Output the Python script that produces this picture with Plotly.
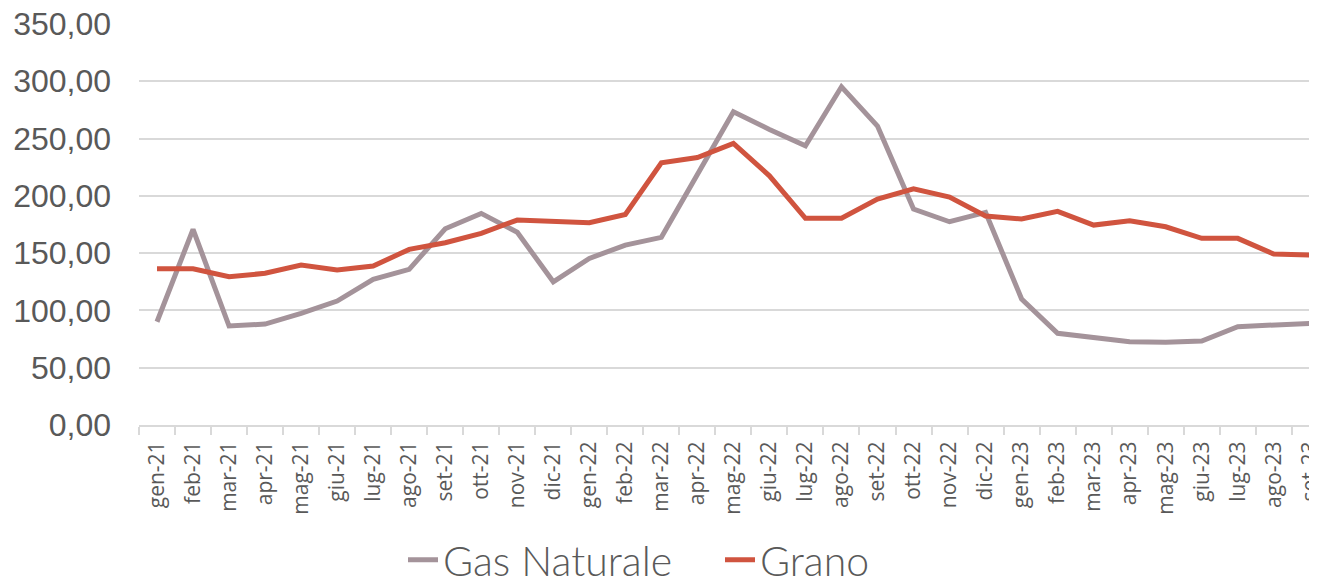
import plotly.graph_objects as go

months = ["gen-21","feb-21","mar-21","apr-21","mag-21","giu-21","lug-21","ago-21","set-21","ott-21","nov-21","dic-21",
          "gen-22","feb-22","mar-22","apr-22","mag-22","giu-22","lug-22","ago-22","set-22","ott-22","nov-22","dic-22",
          "gen-23","feb-23","mar-23","apr-23","mag-23","giu-23","lug-23","ago-23","set-23"]

gas_naturale = [90.1, 170.8, 86.4, 88.1, 97.5, 108.2, 127.1, 135.9, 171.3, 184.7, 168.2, 125.0,
                145.4, 157.0, 163.8, 219.6, 273.4, 258.0, 243.7, 295.2, 260.9, 188.5, 177.4, 185.6,
                110.0, 80.0, 76.5, 72.7, 72.2, 73.3, 85.8, 87.0, 88.7]

grano = [136.4, 136.4, 129.4, 132.4, 139.6, 135.3, 138.7, 153.3, 159.1, 167.3, 178.9, 177.7,
         176.6, 183.8, 228.9, 233.5, 245.8, 217.5, 180.4, 180.4, 197.2, 206.2, 199.0, 182.4,
         179.8, 186.5, 174.5, 178.3, 173.0, 162.9, 162.9, 149.2, 148.3]

y_ticks = [0, 50, 100, 150, 200, 250, 300, 350]

GRAY = "#A4939A"
RED = "#D0543F"
TEXT = "#595959"
GRID = "#D9D9D9"

# page body has an 8px margin: figure is 8px smaller so that it ends at the window edge
W, H = 1309, 574
L, T, B = 131, 16, 157
plot_w = W - L
plot_h = H - T - B

fig = go.Figure()
fig.add_trace(go.Scatter(x=months, y=gas_naturale, mode="lines", name="Gas Naturale",
                         line=dict(color=GRAY, width=5)))
fig.add_trace(go.Scatter(x=months, y=grano, mode="lines", name="Grano",
                         line=dict(color=RED, width=5)))

fig.update_layout(
    width=W, height=H,
    margin=dict(l=L, r=0, t=T, b=B, autoexpand=False),
    paper_bgcolor="white", plot_bgcolor="white",
    separators=",.",
    showlegend=True,
    legend=dict(orientation="h", x=(403 - 139) / plot_w, xanchor="left",
                y=-0.337, yanchor="middle",
                font=dict(family="Lato", size=41, color=TEXT, weight=300),
                entrywidth=272, entrywidthmode="pixels", itemwidth=30,
                tracegroupgap=0),
    xaxis=dict(
        type="category", range=[-0.5, 32.2], automargin=False,
        showgrid=False, showline=True, linecolor=GRID, linewidth=2,
        ticks="outside", tickson="boundaries", ticklen=8, tickcolor=GRID, tickwidth=2,
        tickangle=-90, tickfont=dict(family="Open Sans", size=21, color=TEXT),
        ticklabelstandoff=6, ticklabeloverflow="allow",
    ),
    yaxis=dict(
        range=[0, 350], tickvals=y_ticks, tickformat=".2f", automargin=False,
        showgrid=True, gridcolor=GRID, gridwidth=2, zeroline=False,
        showline=False, ticks="",
        tickfont=dict(family="Liberation Sans", size=32, color=TEXT),
        ticklabelstandoff=27, ticklabeloverflow="allow",
    ),
)

fig.write_html("out.html")
